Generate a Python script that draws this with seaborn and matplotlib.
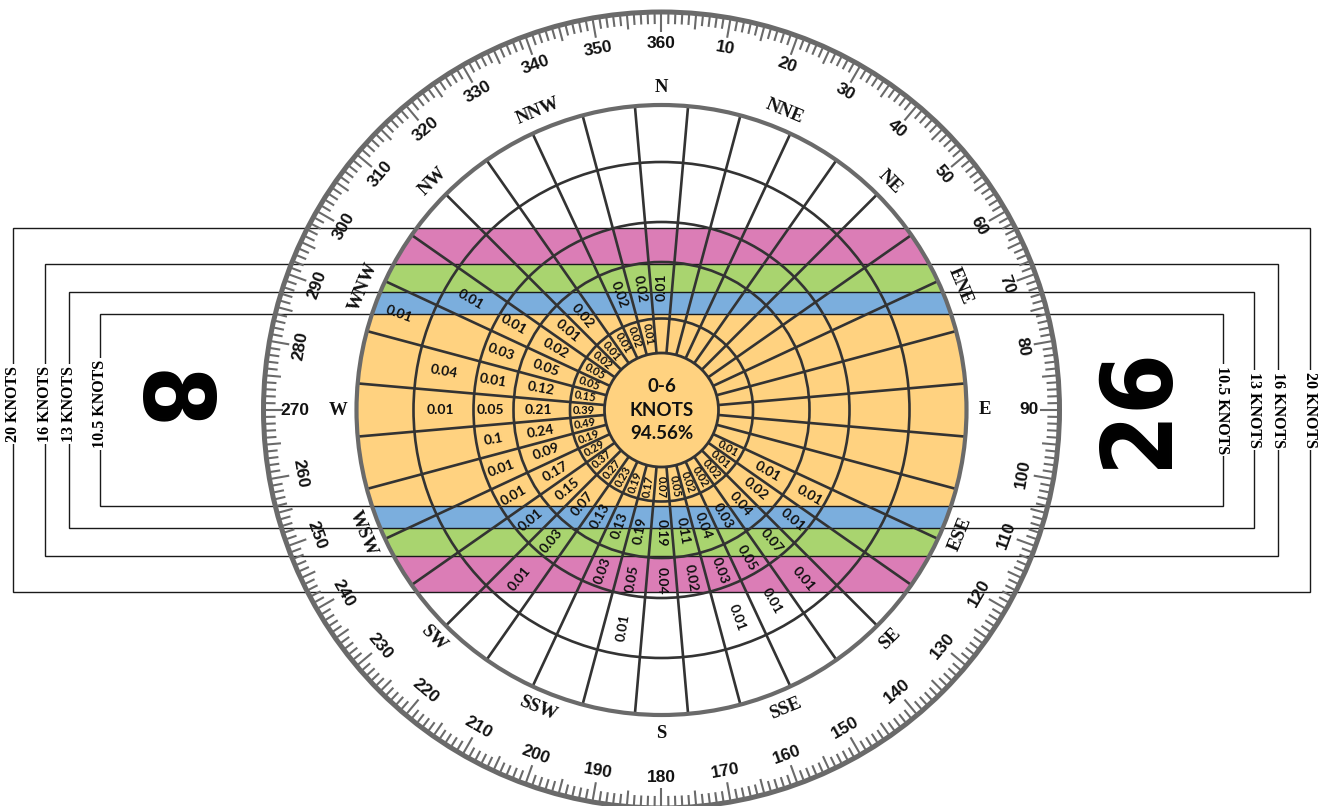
import numpy as np
import matplotlib
matplotlib.use("Agg")
import matplotlib.pyplot as plt
import seaborn as sns
from matplotlib.patches import Circle, Rectangle
from matplotlib.collections import LineCollection
from matplotlib import font_manager as fm

# ---------------- data ----------------
DIRECTIONS = list(range(10, 361, 10))
POINT_NAMES = ["N", "NNE", "NE", "ENE", "E", "ESE", "SE", "SSE",
               "S", "SSW", "SW", "WSW", "W", "WNW", "NW", "NNW"]
SPEED_BINS = ["0-6", "7-10", "11-16", "17-21", "22-27", "28-33"]
CALM_PCT = 94.56
CROSSWIND_LIMITS = [10.5, 13, 16, 20]
RUNWAY_WEST = "8"
RUNWAY_EAST = "26"

# percentage of observations per direction, by speed group (knots)
PCT_7_10 = {120: 0.01, 130: 0.01, 140: 0.02, 150: 0.02, 160: 0.02, 170: 0.05,
            180: 0.07, 190: 0.17, 200: 0.19, 210: 0.23, 220: 0.27, 230: 0.37,
            240: 0.29, 250: 0.19, 260: 0.49, 270: 0.39, 280: 0.15, 290: 0.05,
            300: 0.05, 310: 0.02, 320: 0.01, 330: 0.01, 340: 0.02, 350: 0.01}
PCT_11_16 = {120: 0.01, 130: 0.02, 140: 0.04, 150: 0.03, 160: 0.04, 170: 0.11,
             180: 0.19, 190: 0.19, 200: 0.13, 210: 0.13, 220: 0.07, 230: 0.15,
             240: 0.17, 250: 0.09, 260: 0.24, 270: 0.21, 280: 0.12, 290: 0.05,
             300: 0.02, 310: 0.01, 320: 0.02, 340: 0.02, 350: 0.02, 360: 0.01}
PCT_17_21 = {120: 0.01, 130: 0.01, 140: 0.07, 150: 0.05, 160: 0.03, 170: 0.02,
             180: 0.04, 190: 0.05, 200: 0.03, 220: 0.03, 230: 0.01, 240: 0.01,
             250: 0.01, 260: 0.1, 270: 0.05, 280: 0.01, 290: 0.03, 300: 0.01}
PCT_22_27 = {140: 0.01, 150: 0.01, 160: 0.01, 190: 0.01, 220: 0.01,
             270: 0.01, 280: 0.04, 300: 0.01}
PCT_28_33 = {290: 0.01}
RING_DATA = [PCT_7_10, PCT_11_16, PCT_17_21, PCT_22_27, PCT_28_33]

# ---------------- layout / style ----------------
W, H = 1319, 806
CX, CY = 661.5, 410.0
PX_PER_KNOT = 9.1
RING_EDGES = [57, 91.5, 148, 188, 248, 305]     # radii of speed-group circles
ROSE_R = RING_EDGES[-1]
FRAME_HALF_W = [561, 592, 616.5, 648]
COMPASS_R = 398
COMPASS_LABEL_R = 367
POINT_LABEL_R = 323

C_ORANGE = "#FFD280"
C_BLUE = "#7BAEDD"
C_GREEN = "#A9D46F"
C_PINK = "#DB7DB6"
BAND_COLORS = [C_ORANGE, C_BLUE, C_GREEN, C_PINK]
C_GRID = "#333333"
C_GRAY = "#6A6A6A"

sns.set_theme(style="white")
plt.rcParams["font.family"] = ["DejaVu Sans"]

fig = plt.figure(figsize=(W / 100, H / 100), dpi=100)
fig.patch.set_facecolor("white")
ax = fig.add_axes([0, 0, 1, 1])
ax.set_xlim(-CX, W - CX)
ax.set_ylim(-(H - CY), CY)
ax.axis("off")


def pol(r, th):
    t = np.radians(th)
    return r * np.sin(t), r * np.cos(t)


def tangent_rot(th):
    th = th % 360
    if th in (90, 270):
        return 0
    if th < 90 or th > 270:
        return -th
    return 180 - th


def radial_rot(th):
    th = th % 360
    if th <= 180:
        return 90 - th
    return 270 - th


# ---- crosswind bands (clipped to rose) ----
clip = Circle((0, 0), ROSE_R, transform=ax.transData)
prev = 0
for lim, col in zip(CROSSWIND_LIMITS, BAND_COLORS):
    y0, y1 = prev * PX_PER_KNOT, lim * PX_PER_KNOT
    if prev == 0:
        rects = [(-y1, 2 * y1)]
    else:
        rects = [(y0, y1 - y0), (-y1, y1 - y0)]
    for yy, hh in rects:
        p = Rectangle((-ROSE_R, yy), 2 * ROSE_R, hh, facecolor=col,
                      edgecolor="none", zorder=1)
        ax.add_patch(p)
        p.set_clip_path(clip)
    prev = lim

# ---- runway frames ----
for lim, hw in zip(CROSSWIND_LIMITS, FRAME_HALF_W):
    hh = lim * PX_PER_KNOT
    ax.add_patch(Rectangle((-hw, -hh), 2 * hw, 2 * hh, fill=False,
                           edgecolor="#1a1a1a", linewidth=1.0, zorder=2))
    lab = f"{lim:g} KNOTS"
    for xx, yy, rot in [(-hw, 6, 90), (hw, 0, -90)]:
        ax.text(xx, yy, lab, rotation=rot, ha="center", va="center",
                rotation_mode="anchor", family="Liberation Serif",
                weight="bold", fontsize=11.5, color="black", zorder=7,
                bbox=dict(boxstyle="square,pad=0.12", facecolor="white",
                          edgecolor="none"))

# ---- rose grid ----
ax.add_patch(Circle((0, 0), RING_EDGES[0], facecolor=C_ORANGE,
                    edgecolor=C_GRID, linewidth=2.0, zorder=3))
for r in RING_EDGES[1:-1]:
    ax.add_patch(Circle((0, 0), r, fill=False, edgecolor=C_GRID,
                        linewidth=1.9, zorder=3))
segs = []
for d in DIRECTIONS:
    b = d - 5
    segs.append([pol(RING_EDGES[0], b), pol(ROSE_R, b)])
ax.add_collection(LineCollection(segs, colors=C_GRID, linewidths=1.9, zorder=3))
ax.add_patch(Circle((0, 0), ROSE_R, fill=False, edgecolor=C_GRAY,
                    linewidth=3.0, zorder=3.5))

# ---- centre label ----
ax.text(0, 0, f"{SPEED_BINS[0]}\nKNOTS\n{CALM_PCT:.2f}%", ha="center",
        va="center", family="Lato", weight="bold", fontsize=13.5,
        linespacing=1.45, color="#111111", zorder=4)

# ---- cell values ----
for k, ring in enumerate(RING_DATA):
    r_mid = (RING_EDGES[k] + RING_EDGES[k + 1]) / 2 + 3
    fs = 8.0 if k == 0 else 10.0
    for d in DIRECTIONS:
        v = ring.get(d)
        if v is None:
            continue
        x, y = pol(r_mid, d)
        ax.text(x, y, f"{v:g}", rotation=radial_rot(d), ha="center",
                va="center", rotation_mode="anchor", family="Lato",
                weight="bold", fontsize=fs, color="#111111", zorder=4)

# ---- compass ring ----
ax.add_patch(Circle((0, 0), COMPASS_R, fill=False, edgecolor=C_GRAY,
                    linewidth=3.6, zorder=5))
ticks = []
for deg in range(360):
    ln = 18 if deg % 10 == 0 else (14 if deg % 5 == 0 else 10)
    ticks.append([pol(COMPASS_R - 2, deg), pol(COMPASS_R - 2 - ln, deg)])
ax.add_collection(LineCollection(ticks, colors=C_GRAY, linewidths=1.5, zorder=5))
for d in DIRECTIONS:
    x, y = pol(COMPASS_LABEL_R, d)
    ax.text(x, y, str(d), rotation=tangent_rot(d), ha="center", va="center",
            rotation_mode="anchor", family="Liberation Sans", weight="bold",
            fontsize=12.5, color="#111111", zorder=5)
for i, name in enumerate(POINT_NAMES):
    th = i * 22.5
    x, y = pol(POINT_LABEL_R, th)
    ax.text(x, y, name, rotation=tangent_rot(th), ha="center", va="center",
            rotation_mode="anchor", family="Liberation Serif", weight="bold",
            fontsize=13.5, color="#111111", zorder=5)


# ---- runway numbers ----
def narrow_font():
    cands = []
    for f in fm.fontManager.ttflist:
        nm = f.name.lower()
        st = str(f.stretch).lower()
        if ("narrow" in nm or "condensed" in nm or
                st in ("condensed", "semi-condensed", "extra-condensed",
                       "ultra-condensed")):
            w = f.weight
            if isinstance(w, str):
                w = {"bold": 700, "normal": 400, "regular": 400,
                     "black": 900, "heavy": 900}.get(w.lower(), 400)
            cands.append((abs(int(w) - 700), "mono" in nm, f.fname))
    if cands:
        cands.sort()
        return fm.FontProperties(fname=cands[0][2])
    return fm.FontProperties(family="Liberation Sans", weight="bold")


fp = narrow_font()
t_e = ax.text(1138 - CX, CY - 407, RUNWAY_EAST,
              fontproperties=fp, rotation=90, ha="center", va="center",
              rotation_mode="anchor", fontsize=100, color="black", zorder=5)
t_w = ax.text(165 - CX, CY - 400, RUNWAY_WEST, fontproperties=fp,
              rotation=-90, ha="center", va="center", rotation_mode="anchor",
              fontsize=100, color="black", zorder=5)
fig.canvas.draw()
rend = fig.canvas.get_renderer()
len100 = t_e.get_window_extent(rend).height
s_len = 100 * 122 / len100
s_cap = 97 / 0.72 * 72 / 100
size = min(s_len, s_cap)
t_e.set_fontsize(size)
t_w.set_fontsize(size)

fig.savefig("out.png", dpi=100, facecolor="white")
